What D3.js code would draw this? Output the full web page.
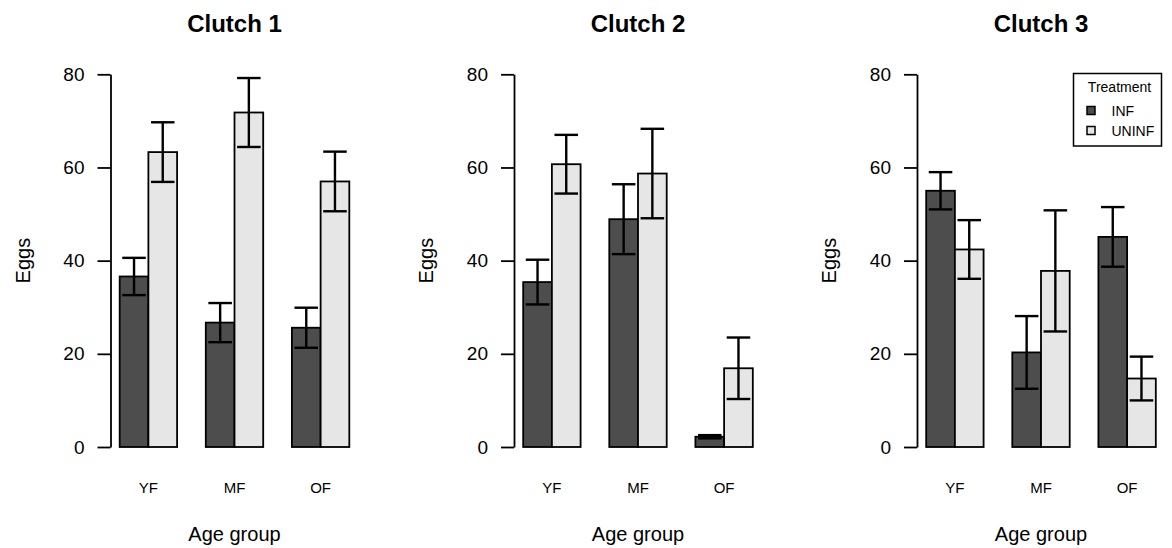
<!DOCTYPE html>
<html>
<head>
<meta charset="utf-8">
<script src="https://cdn.jsdelivr.net/npm/d3@7"></script>
<style>
  body { margin: 0; background: #fff; }
  svg text { font-family: "Liberation Sans", Arial, sans-serif; fill: #000; }
</style>
</head>
<body>
<svg id="chart" width="1172" height="548"></svg>
<script>
// Egg counts by age group, one panel per clutch

const clutches = ["Clutch 1", "Clutch 2", "Clutch 3"];
const ageGroups = ["YF", "MF", "OF"];
const treatments = ["INF", "UNINF"];
const yTicks = [0, 20, 40, 60, 80];

// means, one row per clutch, columns YF / MF / OF
const infMean   = [[36.6, 26.7, 25.6], [35.4, 48.9, 2.2], [55.0, 20.3, 45.1]];
const uninfMean = [[63.3, 71.8, 57.0], [60.7, 58.7, 16.9], [42.4, 37.8, 14.7]];
// standard errors
const infSE     = [[4.0, 4.2, 4.3], [4.8, 7.5, 0.35], [4.0, 7.8, 6.4]];
const uninfSE   = [[6.4, 7.4, 6.4], [6.3, 9.6, 6.6], [6.3, 13.0, 4.7]];

const fills = { INF: "#4d4d4d", UNINF: "#e6e6e6" };

const svg = d3.select("#chart");

// plot region of each panel (R barplot: bars 1..9 units, axis at 0.68)
const plotLeft = [110.5, 514, 917];
const plotWidth = 248;

let y = d3.scaleLinear()
    .domain([0, 80])
    .range([447, 74.3]);

clutches.forEach(function(title, i) {
    let g = svg.append("g");

    // units scale like R's usr coordinates
    let u = d3.scaleLinear()
        .domain([0.68, 9.32])
        .range([plotLeft[i], plotLeft[i] + plotWidth]);

    let x0 = d3.scaleBand()
        .domain(ageGroups)
        .range([u(1), u(9)])
        .paddingInner(1 / 3)
        .paddingOuter(0);

    let x1 = d3.scaleBand()
        .domain(treatments)
        .range([0, x0.bandwidth()]);

    let rows = [];
    ageGroups.forEach(function(a, j) {
        rows.push({ age: a, trt: "INF", mean: infMean[i][j], se: infSE[i][j] });
        rows.push({ age: a, trt: "UNINF", mean: uninfMean[i][j], se: uninfSE[i][j] });
    });

    // bars
    g.selectAll("rect.bar")
        .data(rows)
        .enter()
        .append("rect")
        .attr("class", "bar")
        .attr("x", d => x0(d.age) + x1(d.trt))
        .attr("y", d => y(d.mean))
        .attr("width", x1.bandwidth())
        .attr("height", d => y(0) - y(d.mean))
        .style("fill", d => fills[d.trt])
        .style("stroke", "#000")
        .style("stroke-width", 1.8);

    // error bars
    let capHalf = x1.bandwidth() * 0.41;
    let eb = g.selectAll("g.err")
        .data(rows)
        .enter()
        .append("g")
        .attr("class", "err")
        .style("stroke", "#000")
        .style("stroke-width", 2.4);

    let cx = d => x0(d.age) + x1(d.trt) + x1.bandwidth() / 2;
    eb.append("line")
        .attr("x1", cx).attr("x2", cx)
        .attr("y1", d => y(d.mean + d.se))
        .attr("y2", d => y(d.mean - d.se));
    eb.append("line")
        .attr("x1", d => cx(d) - capHalf).attr("x2", d => cx(d) + capHalf)
        .attr("y1", d => y(d.mean + d.se)).attr("y2", d => y(d.mean + d.se));
    eb.append("line")
        .attr("x1", d => cx(d) - capHalf).attr("x2", d => cx(d) + capHalf)
        .attr("y1", d => y(d.mean - d.se)).attr("y2", d => y(d.mean - d.se));

    // y axis
    let yAxis = d3.axisLeft(y)
        .tickValues(yTicks)
        .tickSize(13)
        .tickSizeOuter(0)
        .tickPadding(13);

    let ax = g.append("g")
        .attr("transform", "translate(" + plotLeft[i] + ",0)")
        .call(yAxis);
    ax.selectAll("path, line").style("stroke", "#000").style("stroke-width", 1.8);
    ax.selectAll("text")
        .style("font-size", "19px")
        .style("font-family", "'Liberation Sans', Arial, sans-serif")
        .attr("fill", "#000");

    // category labels
    g.selectAll("text.cat")
        .data(ageGroups)
        .enter()
        .append("text")
        .attr("class", "cat")
        .attr("x", d => x0(d) + x0.bandwidth() / 2)
        .attr("y", 493)
        .attr("text-anchor", "middle")
        .style("font-size", "15px")
        .text(d => d);

    let mid = plotLeft[i] + plotWidth / 2;

    // title
    g.append("text")
        .attr("x", mid)
        .attr("y", 32)
        .attr("text-anchor", "middle")
        .style("font-size", "24px")
        .style("font-weight", "bold")
        .text(title);

    // axis titles
    g.append("text")
        .attr("x", mid)
        .attr("y", 541)
        .attr("text-anchor", "middle")
        .style("font-size", "20px")
        .text("Age group");

    g.append("text")
        .attr("transform", "translate(" + (plotLeft[i] - 81) + "," + y(40) + ") rotate(-90)")
        .attr("text-anchor", "middle")
        .style("font-size", "20px")
        .text("Eggs");
});

// legend (in third panel)
let lg = svg.append("g").attr("transform", "translate(1073.5,73.5)");
lg.append("rect")
    .attr("width", 88)
    .attr("height", 72.5)
    .style("fill", "#fff")
    .style("stroke", "#000")
    .style("stroke-width", 1.5);
lg.append("text")
    .attr("x", 46)
    .attr("y", 18.5)
    .attr("text-anchor", "middle")
    .style("font-size", "14px")
    .text("Treatment");

let items = lg.selectAll("g.item")
    .data(treatments)
    .enter()
    .append("g")
    .attr("class", "item")
    .attr("transform", (d, k) => "translate(0," + (37 + k * 20) + ")");
items.append("rect")
    .attr("x", 13.5)
    .attr("y", -4)
    .attr("width", 8)
    .attr("height", 8)
    .style("fill", d => fills[d])
    .style("stroke", "#000")
    .style("stroke-width", 1.5);
items.append("text")
    .attr("x", 38)
    .attr("y", 5)
    .style("font-size", "14px")
    .text(d => d);
</script>
</body>
</html>
